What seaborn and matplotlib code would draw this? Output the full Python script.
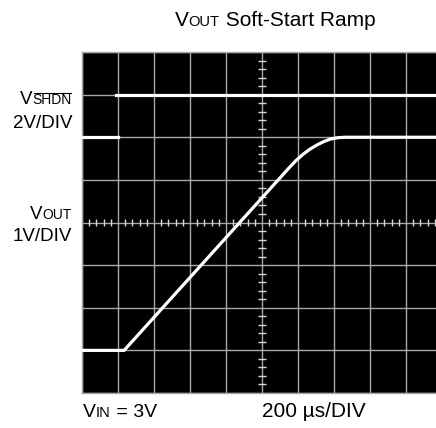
import numpy as np
import pandas as pd
import matplotlib
matplotlib.use("Agg")
import matplotlib.pyplot as plt
import seaborn as sns
from matplotlib.transforms import IdentityTransform
from matplotlib.lines import Line2D

# ---- data (scope divisions: x 0..10, y 0..8) ----
vout_t = [0.0, 1.17, 5.75, 5.94, 6.14, 6.33, 6.53, 6.72, 6.91, 7.11, 7.3, 10.0]
vout_v = [1.0, 1.0, 5.28, 5.45, 5.60, 5.72, 5.82, 5.90, 5.96, 5.99, 6.0, 6.0]
shdn_low_t = [0.0, 1.0]
shdn_low_v = [6.0, 6.0]
shdn_high_t = [0.95, 10.0]
shdn_high_v = [7.0, 7.0]

title_parts = [("V", 15), ("OUT", 10.5), (" Soft-Start Ramp", 15)]

W, H = 436, 428
fig = plt.figure(figsize=(W / 100, H / 100), dpi=100)
fig.patch.set_facecolor("white")

# axes in pixel geometry: left 82, top 52, 36 px/div x, 42.6 px/div y
left, top, right, bottom = 82, 52, 442, 393
ax = fig.add_axes([left / W, (H - bottom) / H, (right - left) / W, (bottom - top) / H])
ax.set_facecolor("black")
ax.set_xlim(0, 10)
ax.set_ylim(0, 8)
ax.set_xticks(range(11))
ax.set_yticks(range(9))
ax.tick_params(length=0, labelbottom=False, labelleft=False)
ax.grid(True, color="#a8a8a8", lw=1.0)
ax.set_axisbelow(True)
for s in ax.spines.values():
    s.set_color("#a8a8a8")
    s.set_linewidth(1.0)

# centre graticule ticks
minor = [v for v in np.arange(0.2, 10, 0.2) if abs(v - round(v)) > 1e-6]
ax.vlines(minor, 4 - 0.085, 4 + 0.085, color="#d8d8d8", lw=1.0, zorder=2)
minor_y = [v for v in np.arange(0.2, 8, 0.2) if abs(v - round(v)) > 1e-6]
ax.hlines(minor_y, 5 - 0.1, 5 + 0.1, color="#d8d8d8", lw=1.0, zorder=2)

# traces
df = pd.concat([
    pd.DataFrame({"t": vout_t, "v": vout_v, "seg": "vout"}),
    pd.DataFrame({"t": shdn_low_t, "v": shdn_low_v, "seg": "shdn_lo"}),
    pd.DataFrame({"t": shdn_high_t, "v": shdn_high_v, "seg": "shdn_hi"}),
], ignore_index=True)
sns.lineplot(data=df, x="t", y="v", units="seg", estimator=None, sort=False,
             color="white", lw=2.3, ax=ax, zorder=5)
ax.set_xlabel("")
ax.set_ylabel("")
ax.set_xlim(0, 10)
ax.set_ylim(0, 8)

FONT = "Liberation Sans"
renderer = fig.canvas.get_renderer()


def runs(parts, x, y_top_px, ha="left"):
    """place text runs; x in px from left, y as baseline px from top"""
    y = H - y_top_px
    objs = []
    for s, sz in parts:
        t = fig.text(0, y, s, fontsize=sz, family=FONT, color="black",
                     transform=IdentityTransform(), va="baseline", ha="left")
        objs.append(t)
    widths = [t.get_window_extent(renderer).width for t in objs]
    total = sum(widths)
    if ha == "right":
        x0 = x - total
    elif ha == "center":
        x0 = x - total / 2
    else:
        x0 = x
    for t, w in zip(objs, widths):
        t.set_position((x0, y))
        x0 += w
    return objs


runs(title_parts, 275, 25.7, ha="center")
objs = runs([("V", 13.5), ("SHDN", 10)], 72, 104.3, ha="right")
bb = objs[1].get_window_extent(renderer)
fig.add_artist(Line2D([bb.x0 + 1, bb.x1 - 1], [H - 92.5, H - 92.5], color="black",
                      lw=0.8, transform=IdentityTransform()))
runs([("2V/DIV", 13.5)], 72, 127.7, ha="right")
runs([("V", 13.5), ("OUT", 10)], 72, 219, ha="right")
runs([("1V/DIV", 13.5)], 72, 241, ha="right")
runs([("V", 14), ("IN", 10.5), (" = 3V", 14)], 83, 417, ha="left")
runs([("200 µs/DIV", 15)], 262, 417, ha="left")

fig.savefig("out.png", dpi=100)
